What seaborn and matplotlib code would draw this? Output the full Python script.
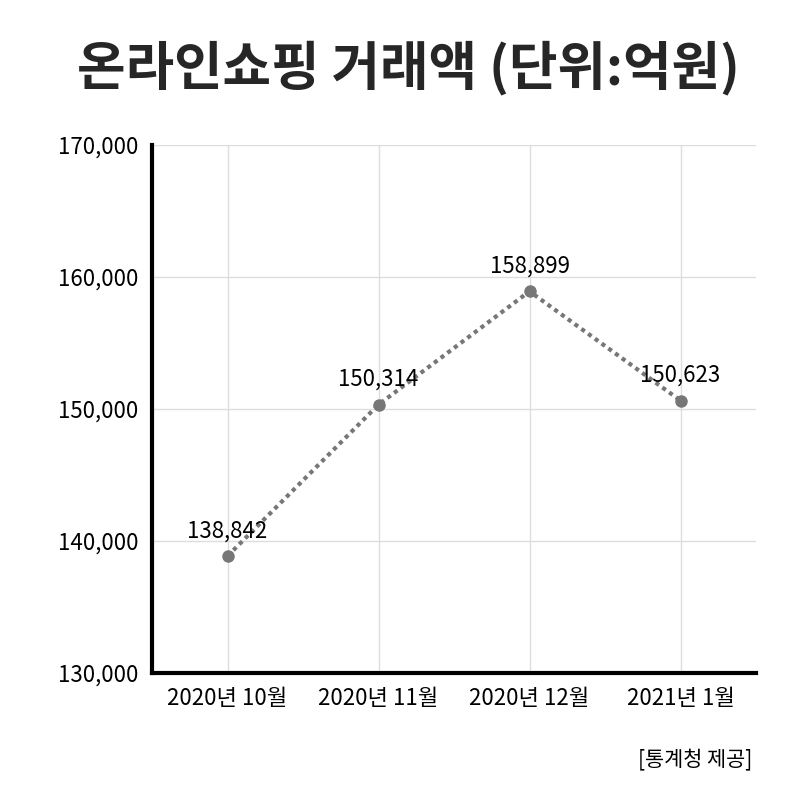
import seaborn as sns
import pandas as pd
from matplotlib import pyplot as plt

months = ['2020년 10월', '2020년 11월', '2020년 12월', '2021년 1월']
sales = [138842, 150314, 158899, 150623]
y_ticks = [130000, 140000, 150000, 160000, 170000]

sns.set_style('whitegrid')
plt.rcParams['font.family'] = ['Noto Sans CJK KR', 'DejaVu Sans']

df = pd.DataFrame({'month': months, 'sales': sales, 'pos': range(len(months))})

fig = plt.figure(figsize=(8, 8), dpi=100)
ax = fig.add_axes([0.19, 0.159, 0.755, 0.66])

sns.lineplot(x='pos', y='sales', data=df, ax=ax, color='#777777', linewidth=3,
             linestyle=(0, (1, 1)), marker='o', markersize=9,
             markeredgewidth=0, markerfacecolor='#777777')

for _, row in df.iterrows():
    ax.annotate(f"{row['sales']:,}", (row['pos'], row['sales']), textcoords='offset points',
                xytext=(0, 10), ha='center', va='bottom', fontsize=16, color='black')

ax.set_xlim(-0.5, 3.5)
ax.set_ylim(130000, 170000)
ax.set_xticks(range(len(months)))
ax.set_xticklabels(months, fontsize=16, color='black')
ax.set_yticks(y_ticks)
ax.set_yticklabels([f'{v:,}' for v in y_ticks], fontsize=16, color='black')
ax.set_xlabel('')
ax.set_ylabel('')
ax.grid(True, color='#dddddd', linewidth=1)
for side in ['top', 'right']:
    ax.spines[side].set_visible(False)
for side in ['left', 'bottom']:
    ax.spines[side].set_color('black')
    ax.spines[side].set_linewidth(3)
ax.tick_params(axis='both', length=0, pad=10)

fig.text(0.51, 0.915, '온라인쇼핑 거래액 (단위:억원)', ha='center', va='center',
         fontsize=38, fontweight='bold')
fig.text(0.94, 0.05, '[통계청 제공]', ha='right', va='center', fontsize=15, color='black')

plt.savefig('out.png', dpi=100)
plt.close()
